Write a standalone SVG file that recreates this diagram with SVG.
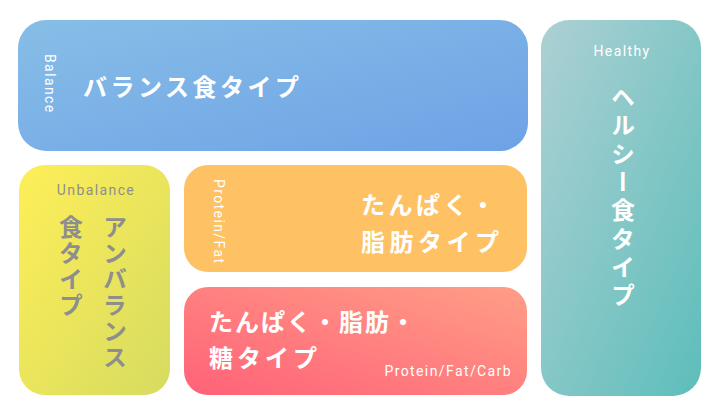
<svg xmlns="http://www.w3.org/2000/svg" width="720" height="416" viewBox="0 0 720 416">
  <defs>
    <linearGradient id="gBal" x1="0" y1="0" x2="1" y2="1">
      <stop offset="0" stop-color="#87BEE6"/>
      <stop offset="1" stop-color="#6DA2E6"/>
    </linearGradient>
    <linearGradient id="gHea" x1="0" y1="0" x2="1" y2="1">
      <stop offset="0" stop-color="#ADD0D4"/>
      <stop offset="1" stop-color="#5DBEBA"/>
    </linearGradient>
    <linearGradient id="gUnb" x1="0" y1="0" x2="1" y2="1">
      <stop offset="0" stop-color="#FEEF58"/>
      <stop offset="1" stop-color="#D6DB60"/>
    </linearGradient>
    <linearGradient id="gPFC" x1="0" y1="1" x2="1" y2="0">
      <stop offset="0" stop-color="#FF6278"/>
      <stop offset="1" stop-color="#FF9E87"/>
    </linearGradient>
  </defs>
  <style>
    .jp { font-family: "Noto Sans CJK JP", "Noto Sans", sans-serif; font-weight: 700; font-size: 24px; letter-spacing: 3.5px; }
    .en { font-family: "Roboto", "DejaVu Sans", sans-serif; font-size: 14px; letter-spacing: 1.4px; }
    .w { fill: #FFFFFF; }
    .g { fill: #8E8E8E; }
    .v { writing-mode: vertical-rl; }
  </style>
  <rect width="720" height="416" fill="#FFFFFF"/>

  <g id="balance">
    <rect x="18" y="20" width="510" height="131" rx="28" fill="url(#gBal)"/>
    <text class="en w v" x="50" y="54">Balance</text>
    <text class="jp w" x="83" y="96">バランス食タイプ</text>
  </g>

  <g id="healthy">
    <rect x="541" y="20" width="160" height="376" rx="28" fill="url(#gHea)"/>
    <text class="en w" x="622" y="56" text-anchor="middle">Healthy</text>
    <text class="jp w v" x="623" y="85" style="letter-spacing:4.3px">ヘルシー食タイプ</text>
  </g>

  <g id="unbalance">
    <rect x="19" y="165" width="151" height="230" rx="26" fill="url(#gUnb)"/>
    <text class="en g" x="96" y="195" text-anchor="middle">Unbalance</text>
    <text class="jp g v" x="115" y="215" style="letter-spacing:2px">アンバランス</text>
    <text class="jp g v" x="71" y="215" style="letter-spacing:2px">食タイプ</text>
  </g>

  <g id="protein-fat">
    <rect x="184" y="165" width="343" height="107" rx="24" fill="#FEC164"/>
    <text class="en w v" x="219" y="179">Protein/Fat</text>
    <text class="jp w" x="361" y="214">たんぱく・</text>
    <text class="jp w" x="361" y="251" style="letter-spacing:4.5px">脂肪タイプ</text>
  </g>

  <g id="protein-fat-carb">
    <rect x="184" y="287" width="343" height="108" rx="24" fill="url(#gPFC)"/>
    <text class="jp w" x="209" y="331" style="letter-spacing:2px">たんぱく・脂肪・</text>
    <text class="jp w" x="209" y="367" style="letter-spacing:4px">糖タイプ</text>
    <text class="en w" x="512" y="376" text-anchor="end">Protein/Fat/Carb</text>
  </g>

  <g id="connectors"></g>
</svg>
